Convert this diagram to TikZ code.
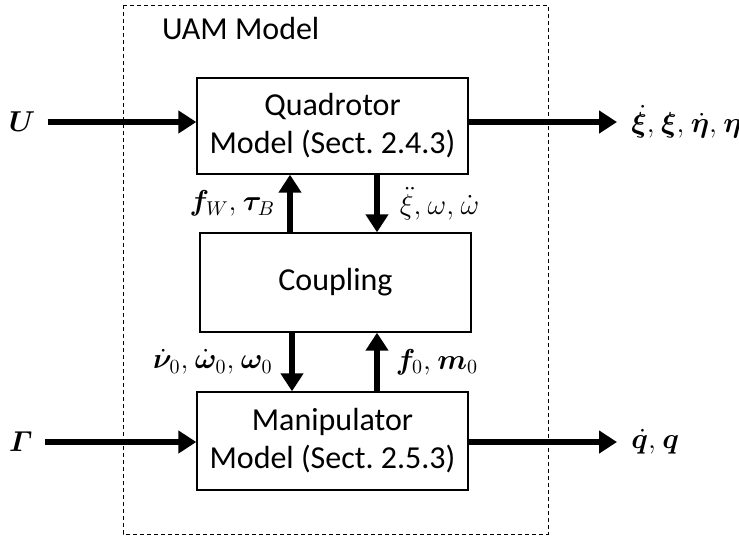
\documentclass[tikz,border=0pt]{standalone}
\usepackage{amsmath,bm}
\usepackage{fontspec}
\setmainfont{Carlito}
\usetikzlibrary{arrows.meta}

\begin{document}
\begin{tikzpicture}[x=0.5pt,y=-0.5pt,
  font=\fontsize{16}{19}\selectfont,
  block/.style={draw,line width=0.7pt,minimum width=135.5pt,minimum height=48pt,align=center,inner sep=0pt},
  sig/.style={font=\fontsize{14.5}{17}\selectfont},
  flow/.style={line width=2.8pt,-{Triangle[length=9pt,width=11pt]}}]
  \useasboundingbox (0,0) rectangle (739,537);
  % outer frame
  \draw[dash pattern=on 2pt off 1.5pt, line width=0.5pt] (123,5) rectangle (548,534);
  \node[anchor=west] (title) at (155,29) {UAM Model};
  % blocks
  \node[block] (quad) at (332.5,126) {Quadrotor\\Model (Sect.~2.4.3)};
  \node[block, minimum height=49.5pt] (cpl) at (335.5,282.5) {Coupling};
  \node[block, minimum height=49pt] (manip) at (332.5,441) {Manipulator\\Model (Sect.~2.5.3)};
  % inputs and outputs
  \node[sig, inner xsep=6pt] (U) at (22,122) {$\bm{U}$};
  \node[sig, inner xsep=6pt] (Gam) at (21,442) {$\bm{\varGamma}$};
  \node[sig, anchor=west, inner xsep=7pt] (qout) at (617,122) {$\dot{\bm\xi},\mkern1mu\bm\xi,\mkern1mu\dot{\bm\eta},\mkern1mu\bm\eta$};
  \node[sig, anchor=west, inner xsep=7pt] (mout) at (617,442) {$\dot{\bm q},\mkern1mu\bm q$};
  \draw[flow] (U.east) -- (quad.west |- U.east);
  \draw[flow] (Gam.east) -- (manip.west |- Gam.east);
  \draw[flow] (quad.east |- qout.west) -- (qout.west);
  \draw[flow] (manip.east |- mout.west) -- (mout.west);
  % coupling signals
  \coordinate (xa) at (290,0);
  \coordinate (xb) at (377,0);
  \coordinate (xc) at (292,0);
  \draw[flow] (cpl.north -| xa) -- (quad.south -| xa) node[sig, midway, left=2.7pt] {$\bm f_W,\mkern1mu\bm\tau_B$};
  \draw[flow] (quad.south -| xb) -- (cpl.north -| xb) node[sig, midway, right=6.7pt] {$\ddot{\xi},\mkern1mu\omega,\mkern1mu\dot{\omega}$};
  \draw[flow] (cpl.south -| xc) -- (manip.north -| xc) node[sig, midway, left=5pt] {$\dot{\bm\nu}_0,\mkern1mu\dot{\bm\omega}_0,\mkern1mu\bm\omega_0$};
  \draw[flow] (manip.north -| xb) -- (cpl.south -| xb) node[sig, midway, right=4.7pt] {$\bm f_0,\mkern1mu\bm m_0$};
\end{tikzpicture}
\end{document}
